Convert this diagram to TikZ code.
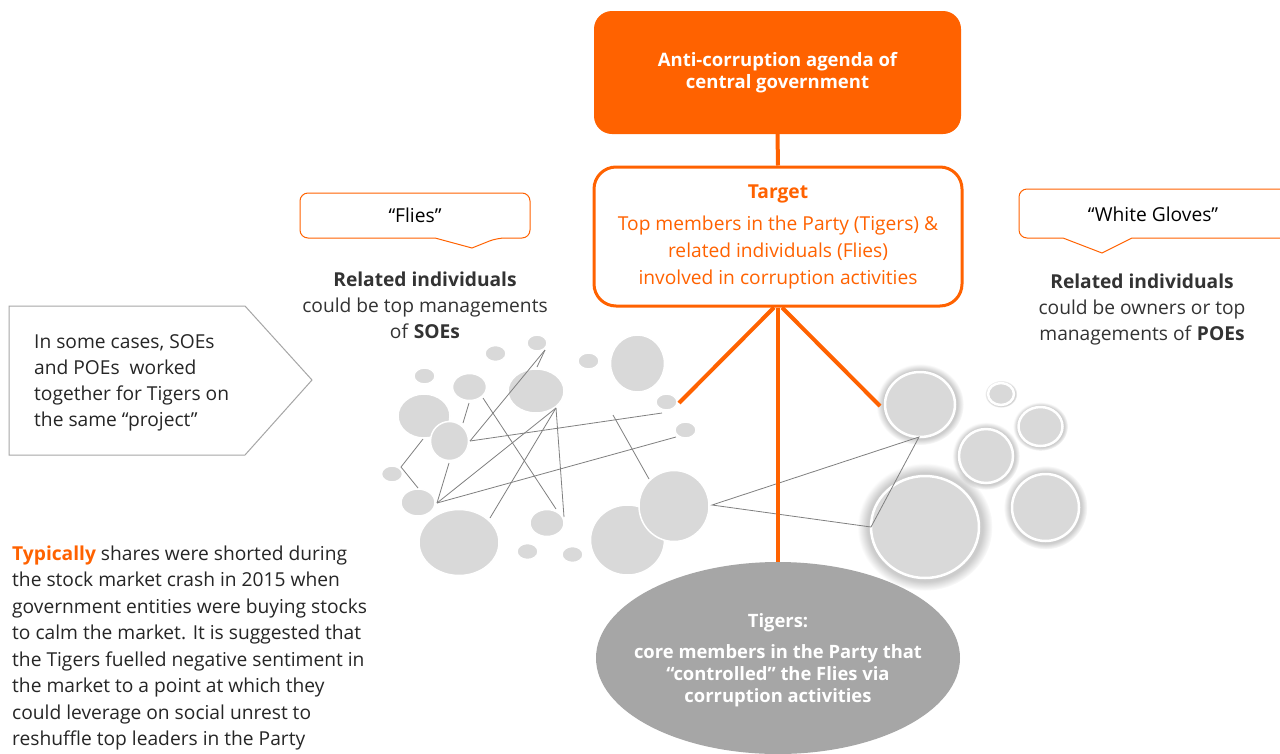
\documentclass[tikz,border=0pt]{standalone}
\usepackage{fontspec}
\setmainfont{Open Sans}
\usetikzlibrary{shapes.geometric,shadows}
\definecolor{ingorange}{HTML}{FF6200}
\definecolor{bubblegray}{HTML}{D9D9D9}
\definecolor{tigergray}{HTML}{A6A6A6}
\definecolor{wiregray}{HTML}{808080}
\definecolor{textgray}{HTML}{333333}

\begin{document}
\begin{tikzpicture}[x=1pt,y=-1pt,font=\fontsize{19.2}{26}\selectfont,
    bubble/.style={fill=bubblegray,draw=white,line width=1.5pt},
    glowbubble/.style={fill=bubblegray,draw=white,line width=2.5pt,circular glow={fill=black,opacity=0.2}},
    wire/.style={wiregray,line width=0.8pt},
    orangeline/.style={ingorange,line width=4pt},
    callout/.style={ingorange,line width=1pt}]
    \useasboundingbox[fill=white] (0,0) rectangle (1280,753);

    \node[draw=none,fill=ingorange,rounded corners=18,minimum width=367,minimum height=123,text=white,align=center,font=\fontsize{18.5}{22}\selectfont\bfseries] (agenda) at (777.5,72.5) {Anti-corruption agenda of\\central government};
    \node[draw=ingorange,line width=3pt,fill=white,rounded corners=22,minimum width=368,minimum height=139,text=ingorange,align=center,font=\fontsize{19.2}{27}\selectfont] (target) at (778,236.5) {\textbf{Target}\\[5pt]Top members in the Party (Tigers) \&\\related individuals (Flies)\\involved in corruption activities};
    \node[ellipse,fill=tigergray,minimum width=364,minimum height=192,inner sep=0] (tigers) at (778,658) {};
    \node[text=white,align=center,font=\fontsize{18.4}{22}\selectfont\bfseries] (tigerstext) at ([yshift=-2]tigers) {Tigers:\\[9pt]core members in the Party that\\“controlled” the Flies via\\corruption activities};

    \fill[bubble] (537,343) ellipse (10 and 8);
    \fill[bubble] (495.5,353.5) ellipse (10.5 and 8);
    \fill[bubble] (424.5,376) ellipse (10.5 and 8);
    \fill[bubble] (588.5,361) ellipse (10.5 and 8);
    \fill[bubble] (469.5,387) ellipse (17 and 13.5);
    \fill[bubble] (536,391) ellipse (28 and 22);
    \fill[bubble] (637.5,363.5) ellipse (27 and 28.5);
    \fill[bubble] (666.5,402) ellipse (10.5 and 8);
    \fill[bubble] (685.5,430) ellipse (10.5 and 8);
    \filldraw[bubble] (424,416) ellipse (26 and 22);
    \filldraw[bubble] (449.5,441) ellipse (19 and 19.5);
    \fill[bubble] (392,474) ellipse (10.5 and 8);
    \fill[bubble] (418,502.5) ellipse (17 and 13.5);
    \fill[bubble] (547,523) ellipse (17 and 13.5);
    \fill[bubble] (459,542.5) ellipse (40 and 33);
    \fill[bubble] (527.5,551.5) ellipse (10.5 and 8);
    \fill[bubble] (572.5,554.5) ellipse (10.5 and 8);
    \filldraw[bubble] (627.5,540) ellipse (37 and 35);
    \filldraw[bubble] (674,506) ellipse (35 and 35.5);

    \filldraw[glowbubble] (920,404.5) ellipse (35 and 32.5);
    \filldraw[glowbubble] (1001,394) ellipse (13 and 11);
    \filldraw[glowbubble] (1040.5,426.5) ellipse (22 and 19.5);
    \filldraw[glowbubble] (986,456) ellipse (27 and 27);
    \filldraw[glowbubble] (925,527) ellipse (54 and 51);
    \filldraw[glowbubble] (1045.5,507.5) ellipse (33.5 and 33.5);

    \draw[wire] (545,350) -- (470,441);
    \draw[wire] (545,350) -- (537,367);
    \draw[wire] (469,403) -- (463,423);
    \draw[wire] (483,398) -- (556,509);
    \draw[wire] (470,441) -- (662,413);
    \draw[wire] (556,408) -- (437,503);
    \draw[wire] (556,408) -- (490,518);
    \draw[wire] (556,408) -- (564,517);
    \draw[wire] (437,503) -- (676,437);
    \draw[wire] (449,463) -- (437,503);
    \draw[wire] (423,439) -- (401,467) -- (418,488);
    \draw[wire] (613,415) -- (649,479);
    \draw[wire] (712,505) -- (919,437) -- (871,527) -- cycle;

    \coordinate (fliesend) at (679,403);
    \coordinate (glovesend) at (880,406);
    \draw[orangeline] (agenda.south) -- (target.north);
    \draw[orangeline] (target.south) -- (tigers.north);
    \draw[orangeline] ([xshift=-4]target.south) -- (fliesend);
    \draw[orangeline] ([xshift=4]target.south) -- (glovesend);

    \draw[callout] (300,215) [rounded corners=8] -- (300,193) -- (530,193) -- (530,238) -- (497,238) [sharp corners] -- (472,248) -- (435,238) [rounded corners=8] -- (300,238) -- cycle;
    \node[text=black] (flies) at (415,215) {“Flies”};
    \draw[callout] (1281,238) -- (1132,238) -- (1102,253) -- (1063,238) [rounded corners=8] -- (1019,238) -- (1019,189) -- (1281,189);
    \node[text=black] (gloves) at (1153,214) {“White Gloves”};

    \node[text=textgray,align=center] (fliesrole) at (425,305) {\textbf{Related individuals}\\could be top managements\\of \textbf{SOEs}};
    \node[text=textgray,align=center] (glovesrole) at (1142,310) {\textbf{Related individuals}\\could be owners or top\\managements of \textbf{POEs}};

    \draw[gray!70,line width=1pt] (9,306) -- (245,306) -- (312,380) -- (245,455) -- (9,455) -- cycle;
    \node[text=black!85,align=left,anchor=west,inner sep=0] (together) at (34,383) {In some cases, SOEs\\and POEs\ \ worked\\together for Tigers on\\the same “project”};

    \node[text=black!85,align=left,anchor=west,inner sep=0,font=\fontsize{19.2}{26.5}\selectfont] (shorting) at (12,648) {\textcolor{ingorange}{\textbf{Typically}} shares were shorted during\\the stock market crash in 2015 when\\government entities were buying stocks\\to calm the market. It is suggested that\\the Tigers fuelled negative sentiment in\\the market to a point at which they\\could leverage on social unrest to\\reshuffle top leaders in the Party};
\end{tikzpicture}
\end{document}
